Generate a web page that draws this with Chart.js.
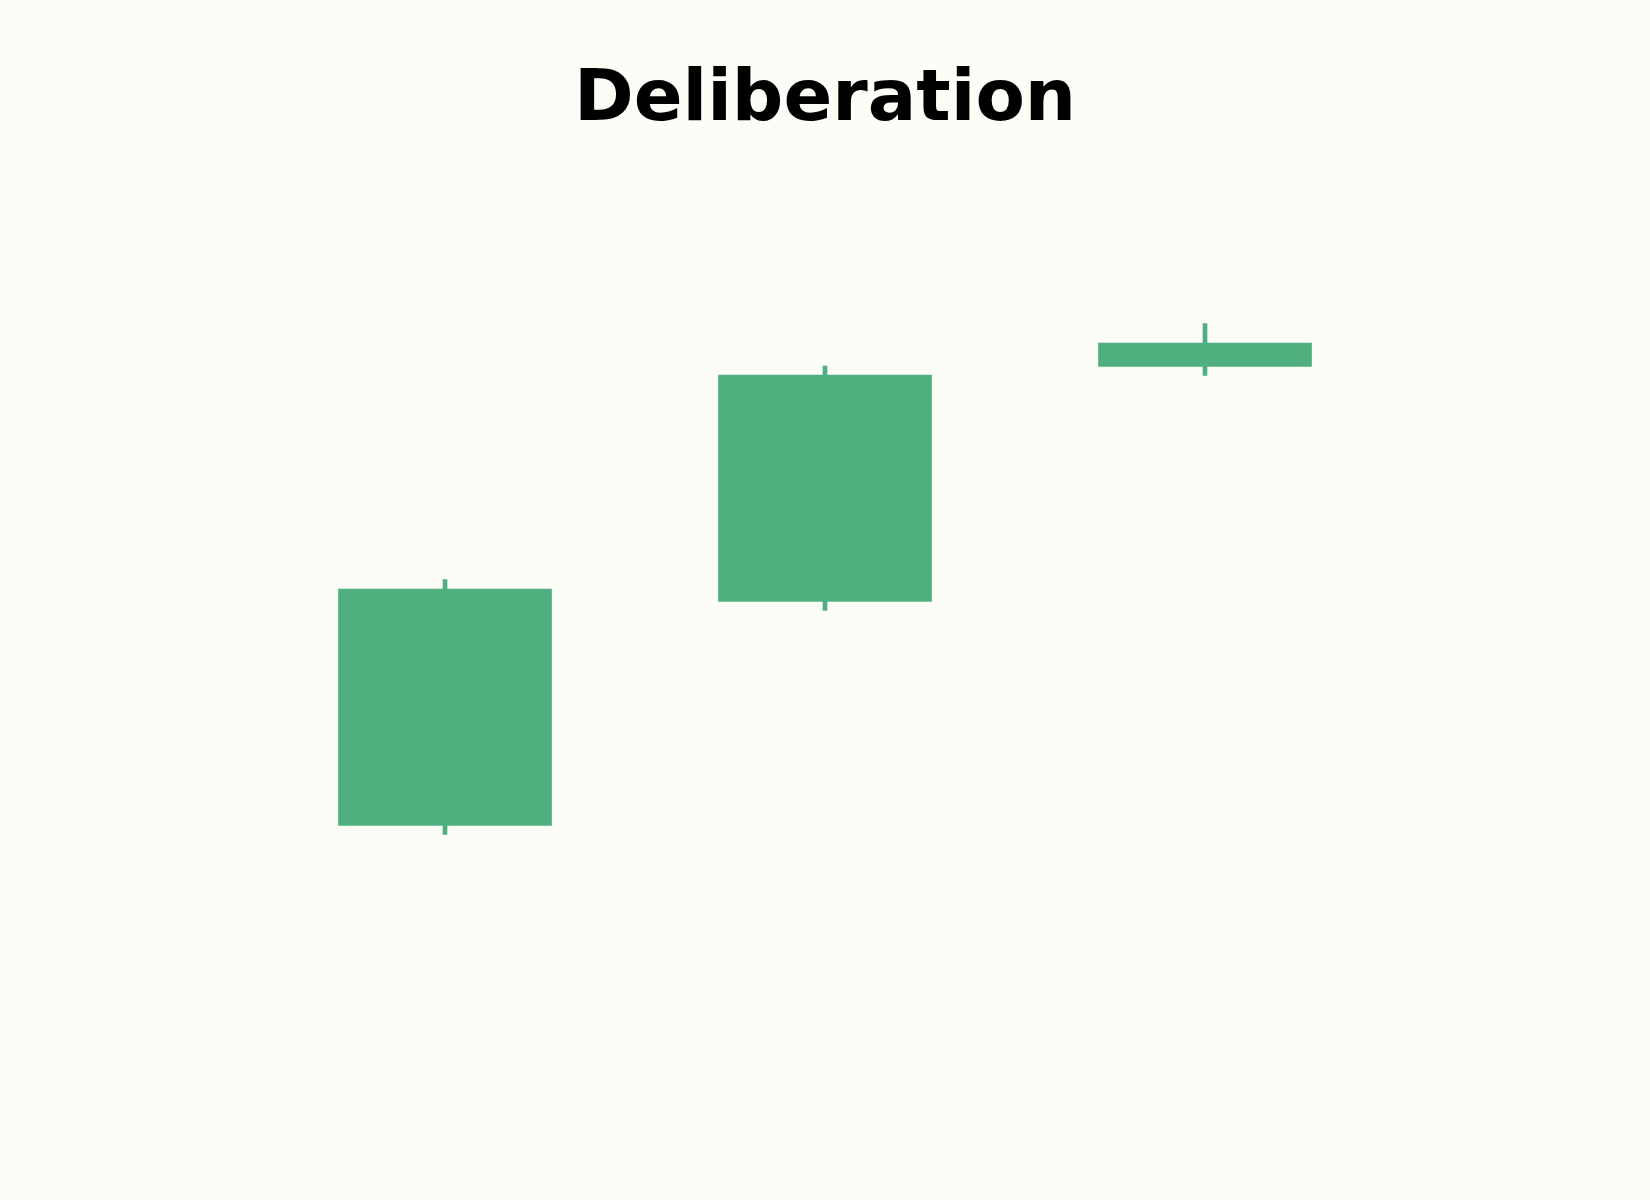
<!DOCTYPE html>
<html>
<head>
<meta charset="utf-8">
<script src="https://cdn.jsdelivr.net/npm/chart.js@4.4.1/dist/chart.umd.min.js"></script>
<style>
  html, body { margin: 0; padding: 0; background: #fdfdf8; }
  #wrap { width: 1650px; height: 1200px; position: relative; }
</style>
</head>
<body>
<div id="wrap"><canvas id="c" width="1650" height="1200"></canvas></div>
<script>
const categories = ['A', 'B', 'C'];
const openValues  = [17.45, 39.85, 63.35];
const closeValues = [41.1, 62.5, 65.7];
const lowValues   = [16.55, 38.95, 62.45];
const highValues  = [42.05, 63.4, 67.65];

const upColor = '#4faf7f';

const bodies = categories.map((_, i) => [openValues[i], closeValues[i]]);
const wicks  = categories.map((_, i) => [lowValues[i], highValues[i]]);

const bgPlugin = {
  id: 'bg',
  beforeDraw(chart) {
    const ctx = chart.ctx;
    ctx.save();
    ctx.fillStyle = '#fdfdf8';
    ctx.fillRect(0, 0, chart.width, chart.height);
    ctx.restore();
  }
};

new Chart(document.getElementById('c'), {
  type: 'bar',
  data: {
    labels: categories,
    datasets: [
      {
        label: 'wick',
        data: wicks,
        backgroundColor: upColor,
        barThickness: 4,
        grouped: false,
        order: 2
      },
      {
        label: 'body',
        data: bodies,
        backgroundColor: upColor,
        barThickness: 213,
        grouped: false,
        order: 1
      }
    ]
  },
  options: {
    responsive: false,
    animation: false,
    devicePixelRatio: 1,
    layout: { padding: { top: 58, bottom: 100, left: 255, right: 255 } },
    plugins: {
      legend: { display: false },
      tooltip: { enabled: false },
      title: {
        display: true,
        text: 'Deliberation',
        color: '#000000',
        font: { family: 'DejaVu Sans', size: 72, weight: 'bold', lineHeight: 1.2 },
        padding: { top: 0, bottom: 0 }
      }
    },
    scales: {
      x: { display: false, offset: true },
      y: { display: false, min: -10, max: 85.56 }
    }
  },
  plugins: [bgPlugin]
});
</script>
</body>
</html>
